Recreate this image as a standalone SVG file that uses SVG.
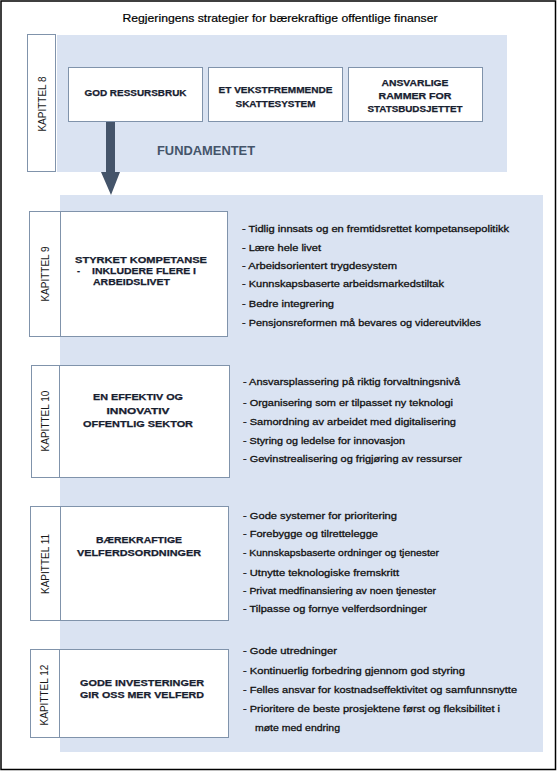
<svg xmlns="http://www.w3.org/2000/svg" width="560" height="771" viewBox="0 0 560 771">
<style>
.frame{fill:#fff;stroke:#000;stroke-width:1.5}
.band{fill:#dae3f2}
.box{fill:#fff;stroke:#8093ab;stroke-width:1}
.tab{font-family:"Liberation Sans",Arial,sans-serif;font-size:10px;fill:#1a1a1a}
.hd{font-family:"Liberation Sans",Arial,sans-serif;font-size:9px;font-weight:bold;fill:#17202f;stroke:#17202f;stroke-width:0.25;text-anchor:middle}
.hl{font-family:"Liberation Sans",Arial,sans-serif;font-size:9px;font-weight:bold;fill:#17202f;stroke:#17202f;stroke-width:0.25}
.bl{font-family:"Liberation Sans",Arial,sans-serif;font-size:9.5px;fill:#111;stroke:#111;stroke-width:0.3}
.title{font-family:"Liberation Sans",Arial,sans-serif;font-size:11px;fill:#000;stroke:#000;stroke-width:0.2;text-anchor:middle}
.fund{font-family:"Liberation Sans",Arial,sans-serif;font-size:13px;font-weight:bold;fill:#44546a}
</style>
<rect class="frame" x="1" y="1" width="554.5" height="768.5"/>
<text class="title" x="280" y="22" textLength="315" lengthAdjust="spacingAndGlyphs">Regjeringens  strategier  for bærekraftige  offentlige  finanser</text>

<rect class="band" x="57" y="35" width="450" height="137"/>
<rect class="band" x="60" y="195" width="483" height="557"/>

<g id="connectors">
  <path d="M106,121 H115 V172 H120 L111,195 L101,172 H106 Z" fill="#44546a"/>
</g>

<g id="kap8">
  <rect class="box" x="27.5" y="34.5" width="28" height="137"/>
  <text class="tab" transform="translate(46,104) rotate(-90)" text-anchor="middle">KAPITTEL 8</text>
</g>
<g id="god-ressursbruk">
  <rect class="box" x="68.5" y="67.5" width="134" height="54"/>
  <text class="hd" x="135.5" y="96" textLength="102" lengthAdjust="spacingAndGlyphs">GOD RESSURSBRUK</text>
</g>
<g id="skattesystem">
  <rect class="box" x="208.5" y="67.5" width="134" height="54"/>
  <text class="hd" x="275.5" y="92.5" textLength="114" lengthAdjust="spacingAndGlyphs">ET VEKSTFREMMENDE</text>
  <text class="hd" x="275.5" y="106.5" textLength="80" lengthAdjust="spacingAndGlyphs">SKATTESYSTEM</text>
</g>
<g id="rammer">
  <rect class="box" x="348.5" y="67.5" width="134" height="54"/>
  <text class="hd" x="415" y="85.5" textLength="67" lengthAdjust="spacingAndGlyphs">ANSVARLIGE</text>
  <text class="hd" x="415" y="98.5" textLength="73" lengthAdjust="spacingAndGlyphs">RAMMER FOR</text>
  <text class="hd" x="415" y="111.5" textLength="95" lengthAdjust="spacingAndGlyphs">STATSBUDSJETTET</text>
</g>
<g id="fundamentet">
  <text class="fund" x="157" y="155" textLength="98" lengthAdjust="spacingAndGlyphs">FUNDAMENTET</text>
</g>

<g id="kap9">
  <rect class="box" x="29.5" y="211.5" width="198" height="125"/>
  <line x1="60.5" y1="211.5" x2="60.5" y2="336.5" stroke="#8093ab"/>
  <text class="tab" transform="translate(48.5,274) rotate(-90)" text-anchor="middle">KAPITTEL 9</text>
  <text class="hl" x="75" y="262.5" textLength="132" lengthAdjust="spacingAndGlyphs">STYRKET KOMPETANSE</text>
  <text class="hl" x="77" y="273.5">-</text>
  <text class="hl" x="92" y="273.5" textLength="104" lengthAdjust="spacingAndGlyphs">INKLUDERE FLERE I</text>
  <text class="hl" x="93" y="284.5" textLength="77" lengthAdjust="spacingAndGlyphs">ARBEIDSLIVET</text>
</g>
<g id="kap9-list">
  <text class="bl" x="242" y="231.5" textLength="267" lengthAdjust="spacingAndGlyphs">- Tidlig innsats og en fremtidsrettet kompetansepolitikk</text>
  <text class="bl" x="242" y="250.5" textLength="79" lengthAdjust="spacingAndGlyphs">- Lære hele livet</text>
  <text class="bl" x="242" y="268.5" textLength="155" lengthAdjust="spacingAndGlyphs">- Arbeidsorientert trygdesystem</text>
  <text class="bl" x="242" y="286.5" textLength="202" lengthAdjust="spacingAndGlyphs">- Kunnskapsbaserte arbeidsmarkedstiltak</text>
  <text class="bl" x="242" y="306.5" textLength="92" lengthAdjust="spacingAndGlyphs">- Bedre integrering</text>
  <text class="bl" x="242" y="325.5" textLength="239" lengthAdjust="spacingAndGlyphs">- Pensjonsreformen må bevares og videreutvikles</text>
</g>

<g id="kap10">
  <rect class="box" x="31.5" y="365.5" width="198" height="112"/>
  <line x1="59.5" y1="365.5" x2="59.5" y2="477.5" stroke="#8093ab"/>
  <text class="tab" transform="translate(49,421) rotate(-90)" text-anchor="middle">KAPITTEL 10</text>
  <text class="hd" x="138" y="400" textLength="90" lengthAdjust="spacingAndGlyphs">EN EFFEKTIV OG</text>
  <text class="hd" x="138" y="413.5" textLength="63" lengthAdjust="spacingAndGlyphs">INNOVATIV</text>
  <text class="hd" x="138" y="426.5" textLength="110" lengthAdjust="spacingAndGlyphs">OFFENTLIG SEKTOR</text>
</g>
<g id="kap10-list">
  <text class="bl" x="243" y="384.5" textLength="217" lengthAdjust="spacingAndGlyphs">- Ansvarsplassering på riktig forvaltningsnivå</text>
  <text class="bl" x="243" y="405.5" textLength="210" lengthAdjust="spacingAndGlyphs">- Organisering som er tilpasset ny teknologi</text>
  <text class="bl" x="243" y="424.5" textLength="213" lengthAdjust="spacingAndGlyphs">- Samordning av arbeidet med digitalisering</text>
  <text class="bl" x="243" y="443.5" textLength="162" lengthAdjust="spacingAndGlyphs">- Styring og ledelse for innovasjon</text>
  <text class="bl" x="243" y="461.5" textLength="219" lengthAdjust="spacingAndGlyphs">- Gevinstrealisering og frigjøring av ressurser</text>
</g>

<g id="kap11">
  <rect class="box" x="30.5" y="506.5" width="198" height="114"/>
  <line x1="60.5" y1="506.5" x2="60.5" y2="620.5" stroke="#8093ab"/>
  <text class="tab" transform="translate(48.5,564) rotate(-90)" text-anchor="middle">KAPITTEL 11</text>
  <text class="hd" x="139" y="542.5" textLength="86" lengthAdjust="spacingAndGlyphs">BÆREKRAFTIGE</text>
  <text class="hd" x="139" y="556" textLength="124" lengthAdjust="spacingAndGlyphs">VELFERDSORDNINGER</text>
</g>
<g id="kap11-list">
  <text class="bl" x="243" y="518.5" textLength="154" lengthAdjust="spacingAndGlyphs">- Gode systemer for prioritering</text>
  <text class="bl" x="243" y="536.5" textLength="135" lengthAdjust="spacingAndGlyphs">- Forebygge og tilrettelegge</text>
  <text class="bl" x="243" y="555.5" textLength="196" lengthAdjust="spacingAndGlyphs">- Kunnskapsbaserte ordninger og tjenester</text>
  <text class="bl" x="243" y="575.5" textLength="156" lengthAdjust="spacingAndGlyphs">- Utnytte teknologiske fremskritt</text>
  <text class="bl" x="243" y="593.5" textLength="193" lengthAdjust="spacingAndGlyphs">- Privat medfinansiering av noen tjenester</text>
  <text class="bl" x="243" y="611.5" textLength="184" lengthAdjust="spacingAndGlyphs">- Tilpasse og fornye velferdsordninger</text>
</g>

<g id="kap12">
  <rect class="box" x="30.5" y="649.5" width="198" height="88"/>
  <line x1="59.5" y1="649.5" x2="59.5" y2="737.5" stroke="#8093ab"/>
  <text class="tab" transform="translate(48,695) rotate(-90)" text-anchor="middle">KAPITTEL 12</text>
  <text class="hd" x="142" y="685.5" textLength="124" lengthAdjust="spacingAndGlyphs">GODE INVESTERINGER</text>
  <text class="hd" x="142" y="697.5" textLength="124" lengthAdjust="spacingAndGlyphs">GIR OSS MER VELFERD</text>
</g>
<g id="kap12-list">
  <text class="bl" x="243" y="653.5" textLength="94" lengthAdjust="spacingAndGlyphs">- Gode utredninger</text>
  <text class="bl" x="243" y="673.5" textLength="222" lengthAdjust="spacingAndGlyphs">- Kontinuerlig forbedring gjennom god styring</text>
  <text class="bl" x="243" y="692.5" textLength="274" lengthAdjust="spacingAndGlyphs">- Felles ansvar for kostnadseffektivitet og samfunnsnytte</text>
  <text class="bl" x="243" y="711.5" textLength="257" lengthAdjust="spacingAndGlyphs">- Prioritere de beste prosjektene først og fleksibilitet i</text>
  <text class="bl" x="255" y="730.5" textLength="85" lengthAdjust="spacingAndGlyphs">møte med endring</text>
</g>
</svg>
